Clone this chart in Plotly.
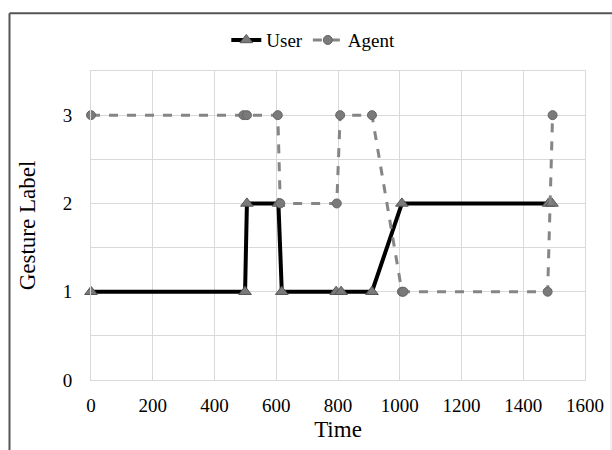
import plotly.graph_objects as go

user_time = [0, 499, 505, 607, 618, 794, 810, 910, 1007, 1482, 1493]
user_label = [1, 1, 2, 2, 1, 1, 1, 1, 2, 2, 2]

agent_time = [0, 494, 505, 605, 613, 796, 807, 910, 1007, 1012, 1479, 1495]
agent_label = [3, 3, 3, 3, 2, 2, 3, 3, 1, 1, 1, 3]

x_ticks = [0, 200, 400, 600, 800, 1000, 1200, 1400, 1600]
y_ticks = [0, 1, 2, 3]

FONT = "Liberation Serif, Times New Roman, serif"

fig = go.Figure()
fig.add_trace(go.Scatter(
    x=user_time, y=user_label, name="User", mode="lines+markers", cliponaxis=False,
    line=dict(color="#000000", width=4),
    marker=dict(symbol="triangle-up", size=11, color="#7a7a7a",
                line=dict(color="#555555", width=1)),
))
fig.add_trace(go.Scatter(
    x=agent_time, y=agent_label, name="Agent", mode="lines+markers", cliponaxis=False,
    line=dict(color="#858585", width=3, dash="dash"),
    marker=dict(symbol="circle", size=9, color="#7a7a7a",
                line=dict(color="#666666", width=1)),
))

fig.update_layout(
    width=612, height=450,
    margin=dict(l=91, r=27, t=71, b=70, pad=0, autoexpand=False),
    paper_bgcolor="white", plot_bgcolor="white",
    font=dict(family=FONT, size=19, color="#000000"),
    showlegend=True,
    legend=dict(orientation="h", x=0.45, xanchor="center", y=1.10, yanchor="middle",
                font=dict(family=FONT, size=19), itemwidth=30, bgcolor="rgba(0,0,0,0)"),
    xaxis=dict(range=[0, 1600], tickvals=x_ticks, ticktext=[str(v) for v in x_ticks],
               showgrid=True, gridcolor="#d9d9d9", gridwidth=1, automargin=False,
               showline=True, linecolor="#d9d9d9", mirror=True, zeroline=False,
               ticks="outside", ticklen=8, tickcolor="rgba(0,0,0,0)",
               title=dict(text="Time", standoff=6),
               tickfont=dict(family=FONT, size=19)),
    yaxis=dict(range=[0, 3.5], tickvals=y_ticks, ticktext=[str(v) for v in y_ticks],
               showgrid=True, gridcolor="#d9d9d9", gridwidth=1, automargin=False,
               showline=True, linecolor="#d9d9d9", mirror=True, zeroline=False,
               ticks="outside", ticklen=14, tickcolor="rgba(0,0,0,0)",
               title=dict(text="Gesture Label", standoff=20),
               minor=dict(dtick=0.5, showgrid=True, gridcolor="#d9d9d9", gridwidth=1),
               tickfont=dict(family=FONT, size=19)),
)

# outer chart frame (dark top and left edges, light right edge)
fig.add_shape(type="line", xref="paper", yref="paper",
              x0=-0.165, x1=1.06, y0=1.187, y1=1.187,
              line=dict(color="#555555", width=2))
fig.add_shape(type="line", xref="paper", yref="paper",
              x0=-0.165, x1=-0.165, y0=1.187, y1=-0.25,
              line=dict(color="#555555", width=2))
fig.add_shape(type="line", xref="paper", yref="paper",
              x0=1.0526, x1=1.0526, y0=1.18, y1=-0.25,
              line=dict(color="#e0e0e0", width=1))

fig.write_html("out.html", config={"displayModeBar": False},
               post_script="document.body.style.margin='0';document.body.style.overflow='hidden';")
